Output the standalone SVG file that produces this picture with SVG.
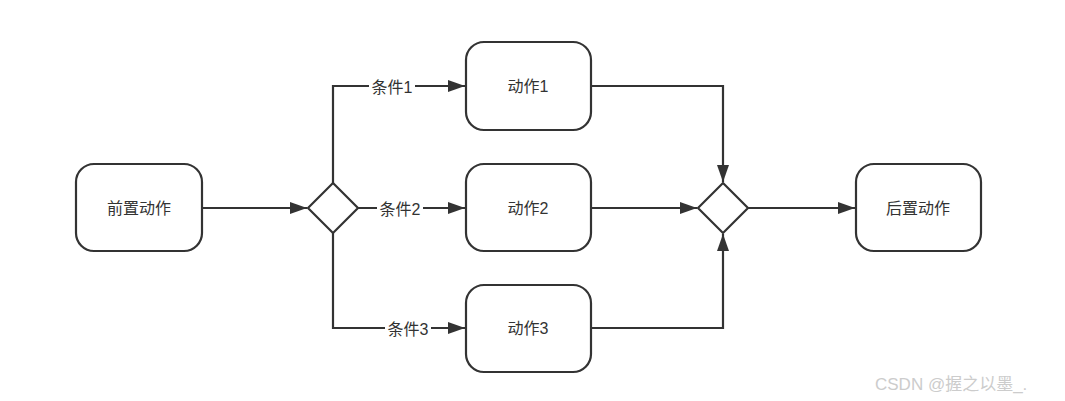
<svg xmlns="http://www.w3.org/2000/svg" width="1065" height="401" viewBox="0 0 1065 401">
<style>
.n{fill:#fff;stroke:#333;stroke-width:2.2}
.t{font-family:"Liberation Sans","Noto Sans CJK SC",sans-serif;font-size:16px;fill:#333;text-anchor:middle;dominant-baseline:central}
.c{fill:none;stroke:#333;stroke-width:2.2}
.lb{fill:#fff}
.wm{font-family:"Liberation Sans","Noto Sans CJK SC",sans-serif;font-size:17px;fill:#ccc}
</style>
<defs>
<marker id="b" markerWidth="17" markerHeight="12" refX="17" refY="6" orient="auto" markerUnits="userSpaceOnUse" viewBox="0 0 17 12">
<path d="M0,0 L17,6 L0,12 Z" fill="#333"/>
</marker>
</defs>
<rect width="1065" height="401" fill="#fff"/>
<g id="connectors">
<path class="c" d="M202,208 L307,208" marker-end="url(#b)"/>
<path class="c" d="M333,183 L333,86 L465,86" marker-end="url(#b)"/>
<path class="c" d="M358,208 L465,208" marker-end="url(#b)"/>
<path class="c" d="M333,233 L333,328 L465,328" marker-end="url(#b)"/>
<path class="c" d="M591,86 L723,86 L723,182" marker-end="url(#b)"/>
<path class="c" d="M591,208 L697,208" marker-end="url(#b)"/>
<path class="c" d="M591,328 L723,328 L723,234" marker-end="url(#b)"/>
<path class="c" d="M748,208 L855,208" marker-end="url(#b)"/>
<rect class="lb" x="369" y="77" width="46" height="18"/>
<text class="t" x="392" y="87">条件1</text>
<rect class="lb" x="377" y="199" width="46" height="18"/>
<text class="t" x="400" y="209">条件2</text>
<rect class="lb" x="385" y="319" width="46" height="18"/>
<text class="t" x="408" y="329">条件3</text>
</g>
<g id="pre">
<rect class="n" x="76" y="164" width="126" height="87" rx="18"/>
<text class="t" x="139" y="208">前置动作</text>
</g>
<g id="gw1">
<path class="n" d="M333,183 L358,208 L333,233 L308,208 Z"/>
</g>
<g id="act1">
<rect class="n" x="466" y="42" width="125" height="88" rx="18"/>
<text class="t" x="528" y="86">动作1</text>
</g>
<g id="act2">
<rect class="n" x="466" y="164" width="125" height="87" rx="18"/>
<text class="t" x="528" y="208">动作2</text>
</g>
<g id="act3">
<rect class="n" x="466" y="285" width="125" height="87" rx="18"/>
<text class="t" x="528" y="328">动作3</text>
</g>
<g id="gw2">
<path class="n" d="M723,183 L748,208 L723,233 L698,208 Z"/>
</g>
<g id="post">
<rect class="n" x="856" y="164" width="125" height="87" rx="18"/>
<text class="t" x="918" y="208">后置动作</text>
</g>
<text class="wm" x="875" y="390">CSDN @握之以墨_.</text>
</svg>
